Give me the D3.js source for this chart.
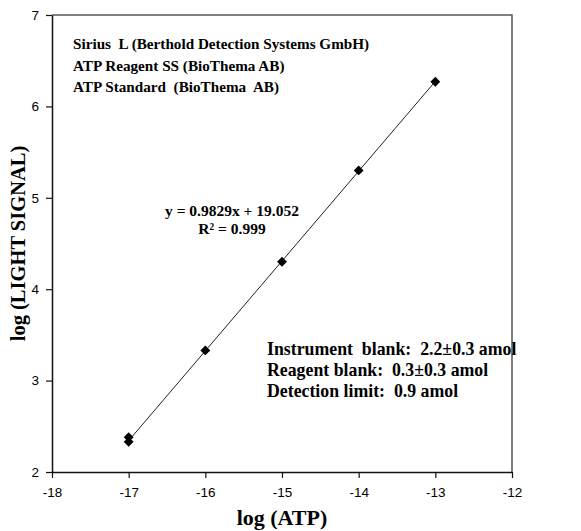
<!DOCTYPE html>
<html>
<head>
<meta charset="utf-8">
<script src="https://cdn.jsdelivr.net/npm/d3@7"></script>
<style>
  body { margin: 0; background: #fff; }
  svg { display: block; }
  text { white-space: pre; }
</style>
</head>
<body>
<svg id="chart" width="581" height="531"></svg>
<script>
// data
const logATP = [-17, -17, -16, -15, -14, -13];
const logSignal = [2.33, 2.38, 3.33, 4.30, 5.30, 6.27];
const xTicks = [-18, -17, -16, -15, -14, -13, -12];
const yTicks = [2, 3, 4, 5, 6, 7];
const fitSlope = 0.9829, fitIntercept = 19.052;
const fitRange = [-17, -13];
const infoLines = ["Sirius  L (Berthold Detection Systems GmbH)", "ATP Reagent SS (BioThema AB)", "ATP Standard  (BioThema  AB)"];
const blankLines = ["Instrument  blank:  2.2\u00b10.3 amol", "Reagent blank:  0.3\u00b10.3 amol", "Detection limit:  0.9 amol"];
const eqLines = ["y = 0.9829x + 19.052", "R\u00b2 = 0.999"];

const svg = d3.select("#chart");
const m = { left: 52, right: 69, top: 15, bottom: 59 };
const W = 581, H = 531;
const innerW = W - m.left - m.right, innerH = H - m.top - m.bottom;
const g = svg.append("g").attr("transform", `translate(${m.left},${m.top})`);

const x = d3.scaleLinear().domain([-18, -12]).range([0, innerW]);
const y = d3.scaleLinear().domain([2, 7]).range([innerH, 0]);

const serif = "'Liberation Serif', 'Times New Roman', serif";
const sans = "'Liberation Sans', Arial, sans-serif";
const fmt = d => String(d); // plain hyphen like the original

// frame top/right
g.append("path").attr("d", `M0,0H${innerW}V${innerH}`).attr("fill", "none").attr("stroke", "#555").attr("stroke-width", 1.5);

const xAxis = g.append("g").attr("transform", `translate(0,${innerH})`)
  .call(d3.axisBottom(x).tickValues(xTicks).tickSize(6).tickSizeOuter(0).tickFormat(fmt));
const yAxis = g.append("g")
  .call(d3.axisLeft(y).tickValues(yTicks).tickSize(6).tickSizeOuter(0).tickFormat(fmt));
[xAxis, yAxis].forEach(a => {
  a.select(".domain").attr("stroke", "#111").attr("stroke-width", 1.5);
  a.selectAll(".tick line").attr("stroke", "#111").attr("stroke-width", 1.2);
  a.selectAll(".tick text").attr("font-family", sans).attr("font-size", 13.5).attr("fill", "#000");
});
xAxis.selectAll(".tick text").attr("dy", "1.15em");
yAxis.selectAll(".tick text").attr("dx", "-0.3em");

// trendline
const fit = fitRange.map(v => [v, fitSlope * v + fitIntercept]);
g.append("line")
  .attr("x1", x(fit[0][0])).attr("y1", y(fit[0][1]))
  .attr("x2", x(fit[1][0])).attr("y2", y(fit[1][1]))
  .attr("stroke", "#222").attr("stroke-width", 1);

// diamond markers
const diamond = d3.symbol().type(d3.symbolDiamond2).size(62);
g.selectAll("path.pt").data(logATP.map((d, i) => [d, logSignal[i]])).enter().append("path")
  .attr("class", "pt")
  .attr("d", diamond)
  .attr("transform", d => `translate(${x(d[0])},${y(d[1])})`)
  .attr("fill", "#000");

// annotations
const txt = (lines, tx, ty, gap, anchor, size) => {
  svg.append("g").selectAll("text").data(lines).enter().append("text")
    .attr("x", tx).attr("y", (d, i) => ty + i * gap)
    .attr("text-anchor", anchor)
    .attr("font-family", serif).attr("font-weight", "bold").attr("font-size", size)
    .attr("fill", "#000")
    .text(d => d);
};
txt(infoLines, 73, 49, 21.5, "start", 15.2);
txt(blankLines, 267, 355, 21, "start", 17.8);
txt(eqLines, 232, 216, 17.5, "middle", 15.5);

// axis titles
svg.append("text").attr("x", m.left + innerW / 2).attr("y", 525).attr("text-anchor", "middle")
  .attr("font-family", serif).attr("font-weight", "bold").attr("font-size", 22).text("log (ATP)");
svg.append("text").attr("transform", `translate(25,${m.top + innerH / 2}) rotate(-90)`)
  .attr("text-anchor", "middle")
  .attr("font-family", serif).attr("font-weight", "bold").attr("font-size", 20.5).text("log (LIGHT SIGNAL)");
</script>
</body>
</html>
